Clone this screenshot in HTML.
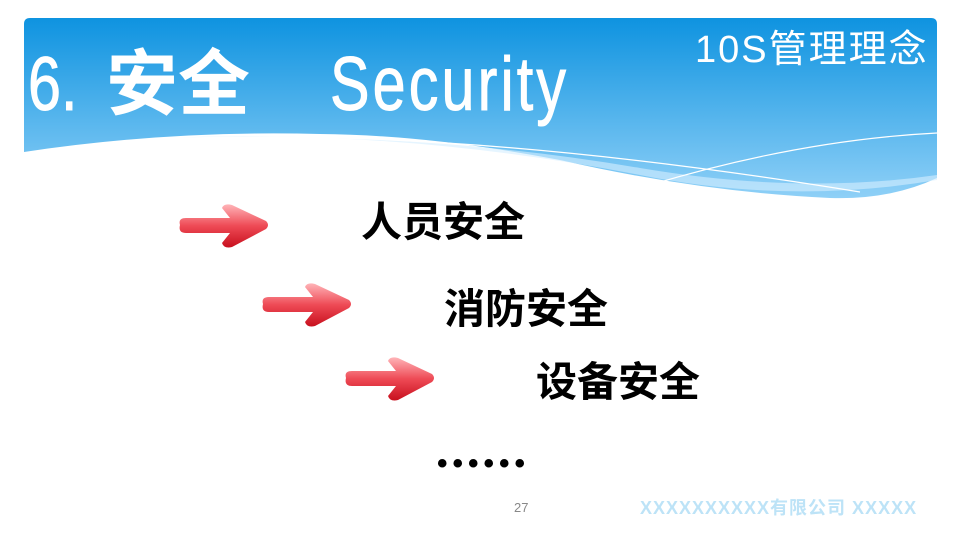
<!DOCTYPE html>
<html><head><meta charset="utf-8"><style>
body{margin:0;width:960px;height:540px;background:#fff;overflow:hidden;position:relative;font-family:"Liberation Sans","Noto Sans CJK SC",sans-serif}
.t{position:absolute;white-space:nowrap}
</style></head><body>
<svg width="960" height="540" style="position:absolute;left:0;top:0">
<defs>
<linearGradient id="bg" x1="0" y1="0" x2="0" y2="1"><stop offset="0" stop-color="#0e93e0"/><stop offset="1" stop-color="#8fd0f7"/></linearGradient>
<linearGradient id="ar" x1="0" y1="0" x2="0" y2="1"><stop offset="0" stop-color="#ffb4b8"/><stop offset="0.5" stop-color="#ee4a55"/><stop offset="1" stop-color="#c8101e"/></linearGradient>
<g id="arrow"><path d="M2,22 Q0,15 8,15 L52,15 L44,5 Q46,0 54,2 L88,18 Q92,22 88,26 L54,44 Q46,46 44,40 L52,30 L8,30 Q0,30 2,22Z" fill="url(#ar)"/></g>
</defs>
<path d="M30,18 H931 Q937,18 937,24 V178 Q890,200 830,198 Q700,192 560,160 Q430,135 320,134 Q170,130 24,152 V24 Q24,18 30,18Z" fill="url(#bg)"/>
<path d="M160,138 Q400,128 640,175 Q790,205 937,180 V175 Q800,195 640,168 Q420,130 160,138Z" fill="#d6efff" opacity="0.6"/>
<path d="M650,185 Q800,140 937,133" fill="none" stroke="#fff" stroke-width="1.2"/>
<path d="M170,140 Q450,125 860,192" fill="none" stroke="#fff" stroke-width="1.2"/>
<use href="#arrow" x="178" y="203"/>
<use href="#arrow" x="261" y="282"/>
<use href="#arrow" x="344" y="356"/>
</svg>
<div class="t" style="left:28px;top:42px;font-size:76px;color:#fff;line-height:86px;-webkit-text-stroke:1px #fff"><span style="display:inline-block;transform:scaleX(0.78);transform-origin:left">6.</span></div>
<div class="t" style="left:106px;top:42px;font-size:72px;font-weight:bold;color:#fff;line-height:86px">安全</div>
<div class="t" style="left:330px;top:42px;font-size:76px;color:#fff;line-height:86px;letter-spacing:4px;-webkit-text-stroke:1px #fff"><span style="display:inline-block;transform:scaleX(0.78);transform-origin:left">Security</span></div>
<div class="t" style="left:695px;top:28px;font-size:38px;color:#fff;line-height:44px;letter-spacing:2px">10S管理理念</div>
<div class="t" style="left:361px;top:196px;font-size:41px;font-weight:bold;line-height:52px">人员安全</div>
<div class="t" style="left:444px;top:283px;font-size:41px;font-weight:bold;line-height:52px">消防安全</div>
<div class="t" style="left:536px;top:356px;font-size:41px;font-weight:bold;line-height:52px">设备安全</div>
<div class="t" style="left:437px;top:444px;font-size:30px;font-weight:bold;line-height:40px;letter-spacing:5px">••••••</div>
<div class="t" style="left:514px;top:500px;font-size:13px;color:#888">27</div>
<div class="t" style="left:640px;top:494px;font-size:18px;font-weight:bold;color:#bde3f7;letter-spacing:1px">XXXXXXXXXX有限公司 XXXXX</div>
</body></html>
